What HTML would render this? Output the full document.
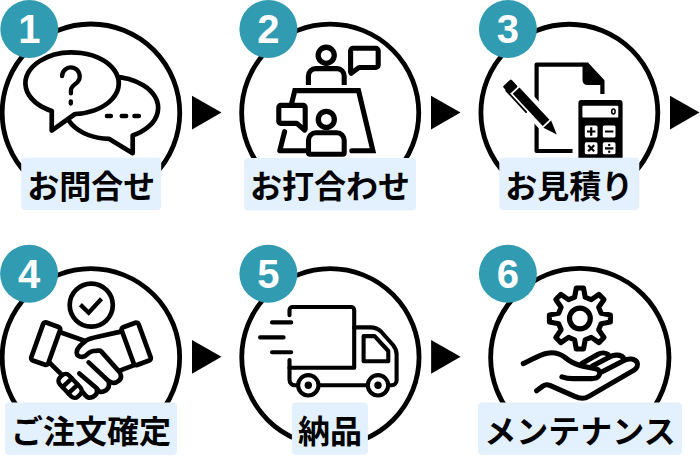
<!DOCTYPE html>
<html lang="ja"><head><meta charset="utf-8"><title>flow</title>
<style>
html,body{margin:0;padding:0;background:#fff;font-family:"Liberation Sans","Noto Sans CJK JP",sans-serif;}
svg{display:block}
text{font-family:"Liberation Sans","Noto Sans CJK JP",sans-serif}
.ln{stroke:#000;stroke-linecap:round;stroke-linejoin:round}
</style></head><body>
<svg width="700" height="460" viewBox="0 0 700 460">
<rect width="700" height="460" fill="#fff"/>
<!-- step circles -->
<g fill="#fff" stroke="#000" stroke-width="4.8">
<circle cx="90.95" cy="112.80" r="88.80"/>
<circle cx="330.20" cy="112.70" r="88.55"/>
<circle cx="569.35" cy="112.70" r="88.45"/>
<circle cx="90.90" cy="357.40" r="88.75"/>
<circle cx="330.40" cy="357.30" r="88.65"/>
<circle cx="579.80" cy="357.50" r="89.15"/>
</g>
<!-- step icons (1 inquiry, 2 meeting, 3 estimate, 4 order, 5 delivery, 6 maintenance) -->
<g class="ln" stroke-width="4.7" fill="#fff"><path d="M108.9 138.85A46.7 31 0 1 1 132.7 135.5L132.7 153.2Z"/><path d="M75 114A46.7 30.8 0 1 0 51.8 111L51.7 130.6Z"/><path fill="none" stroke-width="4.3" d="M62.1 76.2A8.8 8.8 0 1 1 77.6 81.9C74.5 85 70.9 86.5 70.9 90.5V93.4"/><path fill="none" stroke-width="4.3" d="M70.8 101.3V103.5"/><path fill="none" stroke-width="4.4" d="M106.9 116H110.9M121.7 116H126.2M134.4 116H138.9"/></g>
<g class="ln" stroke-width="5.1" fill="none"><path stroke-linejoin="miter" d="M291.8 102.7L294.8 90.6H358.5L372.9 150.7H351.8"/><path d="M284.6 131.6L279.8 150.7H306"/><circle cx="326.2" cy="55.3" r="8.05" stroke-width="5.3"/><path stroke-linecap="butt" d="M308.4 85V75.9a7.3 7.3 0 0 1 7.3-7.3H336.9a7.3 7.3 0 0 1 7.3 7.3V85"/><circle cx="326.3" cy="119.4" r="8" stroke-width="5.3"/><path fill="#fff" d="M308.5 152.8V140.1a7.3 7.3 0 0 1 7.3-7.3H336.9a7.3 7.3 0 0 1 7.3 7.3V152.8a1.5 1.5 0 0 1-1.5 1.5H310a1.5 1.5 0 0 1-1.5-1.5Z"/><path fill="#fff" d="M351.2 73.2L350.6 72V50.7a2.5 2.5 0 0 1 2.5-2.5H375.7a2.5 2.5 0 0 1 2.5 2.5V65a2.5 2.5 0 0 1-2.5 2.5H359Z"/><path fill="#fff" d="M280.8 105.4H303.2a2 2 0 0 1 2 2V129L304.6 130.2L296.8 123.4H280.8a2 2 0 0 1-2-2V107.4a2 2 0 0 1 2-2Z"/></g>
<path fill="none" stroke="#000" stroke-width="4.2" stroke-linejoin="round" d="M583 64.6H536.6V151H572.5"/><path fill="#000" d="M582.5 62.5H588L604.5 80.2V94H600.3V84.9H588Q582.5 84.9 582.5 79.4Z"/><rect x="578.4" y="100" width="44.2" height="62" rx="3" fill="#000"/><rect x="582.4" y="105.7" width="35.9" height="11.9" rx="1" fill="#fff"/><ellipse cx="613.4" cy="111.6" rx="1.7" ry="2.5" fill="none" stroke="#000" stroke-width="1.5"/><rect x="584.8" y="125.5" width="12.7" height="12" rx="1.6" fill="#fff"/><rect x="584.8" y="142.3" width="12.7" height="12" rx="1.6" fill="#fff"/><rect x="602.8" y="125.5" width="12.7" height="12" rx="1.6" fill="#fff"/><rect x="602.8" y="142.3" width="12.7" height="12" rx="1.6" fill="#fff"/><path fill="none" stroke="#000" stroke-width="2.2" d="M587 131.5h8.4M591.2 127.3v8.4M605 131.5h8.4M588.2 145.3l6 6M594.2 145.3l-6 6M605 148.3h8.4"/><circle cx="609.2" cy="144.9" r="1.2"/><circle cx="609.2" cy="151.7" r="1.2"/><g transform="translate(507.7 81.5) rotate(47.1)"><g fill="#fff" stroke="#fff" stroke-width="9" stroke-linejoin="round"><rect x="0.4" y="-4" width="10.2" height="11.2" rx="1.4"/><path d="M12.3 -4.6H56.4V4.6H12.3Z"/><path d="M58.2 -5.2L72.3 0.2L58.2 5.4Z"/><path d="M5 5H9V6.3H34.6Q35.9 6.3 35.9 7.25Q35.9 8.2 34.6 8.2H5Z"/></g><g fill="#000"><rect x="0.4" y="-4" width="10.2" height="11.2" rx="1.4"/><path d="M12.3 -4.6H56.4V4.6H12.3Z"/><path d="M58.2 -5.2L72.3 0.2L58.2 5.4Z"/><path d="M5 5H9V6.3H34.6Q35.9 6.3 35.9 7.25Q35.9 8.2 34.6 8.2H5Z"/></g></g>
<g class="ln" stroke-width="4.7" fill="#fff"><circle cx="91.25" cy="305.1" r="21.55" stroke-width="4.7"/><path fill="none" stroke-width="4.3" stroke-linecap="butt" stroke-linejoin="miter" d="M80.4 304.6L88.7 312.7L101.5 298.8"/></g>
<g class="ln" fill="none" stroke-width="32.25" transform="translate(50 335) scale(0.14572)"><path d="M66 -20L236 40"/><path d="M486 -23L328 12C300 18 272 24 250 36L212 69C195 84 184 100 183 122C183 140 202 151 220 150C234 149 242 144 250 137L268 122C278 114 286 111 298 110L336 107C343 106.5 347 108 351 112L470 246C492 268 494 296 472 314C458 326 442 330 430 328C416 326 406 320 396 310L265 188"/><path d="M403 322C408 346 400 368 384 379C370 388 356 392 345 390C334 388 328 374 320 366L201 264"/><path d="M322 374C326 396 316 414 295 424C284 429 274 431 265 430C254 428 246 418 238 409L222 390"/><path d="M-5 188L78 270"/><path d="M578 207L474 246"/></g>
<g class="ln" stroke-width="4.7" fill="#fff"><rect x="-9" y="-20.1" width="18" height="40.2" rx="2.5" transform="translate(45.7 343.7) rotate(19.6)"/><rect x="-9" y="-20.1" width="18" height="40.2" rx="2.5" transform="translate(136.2 343.9) rotate(-20)"/></g>
<g class="ln" fill="#fff" stroke-width="4.4" transform="translate(70.1 385.9) rotate(47)"><rect x="-13.1" y="-6.4" width="26.2" height="12.8" rx="4.8"/><path d="M-4.3 -6.4V6.4M4.3 -6.4V6.4"/></g>
<g class="ln" stroke-width="4.1" fill="none"><path d="M289.5 315.2V310a3 3 0 0 1 3-3H351.2a3 3 0 0 1 3 3V367.8H289.5"/><path d="M289.5 360.1V379.8a5.5 5.5 0 0 0 5.5 5.5H298"/><path d="M318.5 385.3H368"/><path d="M354.2 327.4H370.5C376 327.4 378.5 329 381 331.5L393 345C395.5 348 396.6 350 396.6 354.5V380.3a5 5 0 0 1-5 5H388.4"/><path d="M363.6 336.1H374.6L388.3 351V361.3H363.6Z"/><circle cx="308.3" cy="385.3" r="10.2" fill="#fff"/><circle cx="378" cy="385.3" r="10.2" fill="#fff"/><path d="M272 322.4H291.2M260.1 337.4H283.6M272 352.2H291.2"/></g><circle cx="308.3" cy="385.3" r="3.7"/><circle cx="378" cy="385.3" r="3.7"/>
<g class="ln" fill="none" stroke-width="5.1"><path d="M574.60 297.25L576.30 288.01L583.50 288.01L585.20 297.25L591.18 299.73L598.91 294.40L604.00 299.49L598.67 307.22L601.15 313.20L610.39 314.90L610.39 322.10L601.15 323.80L598.67 329.78L604.00 337.51L598.91 342.60L591.18 337.27L585.20 339.75L583.50 348.99L576.30 348.99L574.60 339.75L568.62 337.27L560.89 342.60L555.80 337.51L561.13 329.78L558.65 323.80L549.41 322.10L549.41 314.90L558.65 313.20L561.13 307.22L555.80 299.49L560.89 294.40L568.62 299.73Z"/><circle cx="579.90" cy="318.50" r="10.4" stroke-width="5.2"/></g>
<g class="ln" fill="none" stroke-width="28.79" transform="translate(518 345) scale(0.17715)"><path d="M30 105C80 82 120 55 165 46C200 40 235 48 262 68C290 92 315 108 360 118L438 134C460 138 468 158 455 175C448 186 435 190 415 190H310C285 190 265 186 248 180"/><path d="M360 104L452 52C470 42 495 42 510 55"/><path d="M420 118L520 66C545 52 580 55 595 72"/><path d="M478 150L598 88C625 74 660 76 672 98C680 115 670 132 655 142L400 290C375 305 345 302 320 290L180 228C165 222 152 224 140 232L105 258"/></g>
<!-- number badges -->
<g fill="#319bb1">
<circle cx="29.30" cy="29.00" r="29.00"/>
<circle cx="268.40" cy="29.00" r="29.00"/>
<circle cx="507.90" cy="29.00" r="29.00"/>
<circle cx="29.10" cy="273.80" r="29.00"/>
<circle cx="268.40" cy="273.80" r="29.00"/>
<circle cx="507.90" cy="273.80" r="29.00"/>
</g>
<text x="29.3" y="43.0" font-size="40" font-weight="700" text-anchor="middle" fill="#fff" stroke="none">1</text>
<text x="268.4" y="43.0" font-size="40" font-weight="700" text-anchor="middle" fill="#fff" stroke="none">2</text>
<text x="507.9" y="43.0" font-size="40" font-weight="700" text-anchor="middle" fill="#fff" stroke="none">3</text>
<text x="29.1" y="287.8" font-size="40" font-weight="700" text-anchor="middle" fill="#fff" stroke="none">4</text>
<text x="268.4" y="287.8" font-size="40" font-weight="700" text-anchor="middle" fill="#fff" stroke="none">5</text>
<text x="507.9" y="287.8" font-size="40" font-weight="700" text-anchor="middle" fill="#fff" stroke="none">6</text>
<!-- arrows -->
<g fill="#000">
<path d="M192.00 95.70v33.8l29.5-16.9z"/>
<path d="M431.00 95.70v33.8l29.5-16.9z"/>
<path d="M670.00 95.70v33.8l29.5-16.9z"/>
<path d="M192.00 339.90v33.8l29.5-16.9z"/>
<path d="M431.10 339.90v33.8l29.5-16.9z"/>
</g>
<!-- labels -->
<rect x="21.20" y="157.80" width="140.00" height="52.3" rx="4" fill="#e3f0fd"/>
<text x="91.2" y="197.9" font-size="32" font-weight="700" text-anchor="middle" fill="#000" stroke="none">お問合せ</text>
<rect x="244.10" y="158.00" width="172.00" height="52.3" rx="4" fill="#e3f0fd"/>
<text x="330.1" y="198.1" font-size="32" font-weight="700" text-anchor="middle" fill="#000" stroke="none">お打合わせ</text>
<rect x="499.30" y="157.80" width="140.00" height="52.3" rx="4" fill="#e3f0fd"/>
<text x="569.3" y="197.9" font-size="32" font-weight="700" text-anchor="middle" fill="#000" stroke="none">お見積り</text>
<rect x="5.00" y="402.50" width="172.00" height="52.3" rx="4" fill="#e3f0fd"/>
<text x="91.0" y="442.6" font-size="32" font-weight="700" text-anchor="middle" fill="#000" stroke="none">ご注文確定</text>
<rect x="291.90" y="402.40" width="76.00" height="52.3" rx="4" fill="#e3f0fd"/>
<text x="329.9" y="442.5" font-size="32" font-weight="700" text-anchor="middle" fill="#000" stroke="none">納品</text>
<rect x="478.00" y="402.50" width="204.00" height="52.3" rx="4" fill="#e3f0fd"/>
<text x="580.0" y="442.6" font-size="32" font-weight="700" text-anchor="middle" fill="#000" stroke="none">メンテナンス</text>
</svg>
</body></html>
